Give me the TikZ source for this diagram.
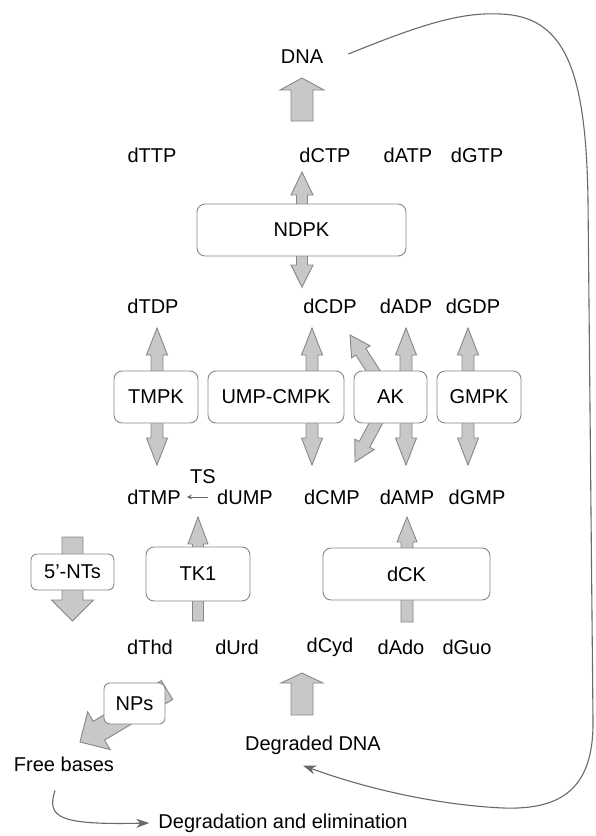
\documentclass[tikz,border=0pt]{standalone}
\usepackage{fontspec}
\setmainfont{Liberation Sans}
\usetikzlibrary{calc,arrows.meta,backgrounds}

\definecolor{arrfill}{RGB}{200,200,200}
\definecolor{arrline}{RGB}{135,135,135}
\definecolor{conn}{RGB}{105,105,105}

\tikzset{
  enzyme/.style={draw=arrline, fill=white, rounded corners=8pt, line width=0.9pt,
    minimum height=52pt, inner sep=0pt},
  blockarrow/.style={draw=arrline, fill=arrfill, line width=0.9pt},
  flow/.style={draw=conn, line width=1.1pt, -{Stealth[length=13pt,width=9pt,inset=4pt]}},
  tsflow/.style={draw=conn, line width=0.7pt, -{Stealth[length=5pt,width=5pt]},
    shorten <=6pt, shorten >=3pt},
}

% block arrow: tail, tip, half shaft width, half head width, head length
\newcommand{\blkarrow}[5]{%
  \coordinate (tail) at #1;
  \coordinate (tip) at #2;
  \coordinate (neck) at ($(tip)!#5pt!(tail)$);
  \draw[blockarrow] ($(tail)!#3pt!90:(tip)$) -- ($(neck)!#3pt!-90:(tail)$)
    -- ($(neck)!#4pt!-90:(tail)$) -- (tip) -- ($(neck)!#4pt!90:(tail)$)
    -- ($(neck)!#3pt!90:(tail)$) -- ($(tail)!#3pt!-90:(tip)$) -- cycle;
}

\begin{document}
\begin{tikzpicture}[x=1pt, y=-1pt, font=\fontsize{20}{24}\selectfont, inner sep=3pt]
  \useasboundingbox (0,0) rectangle (595,836);

  % nucleotides
  \node (DNA) at (302,57) {DNA};
  \foreach \lab/\x in {dTTP/152, dCTP/325, dATP/408, dGTP/477}
    \node (\lab) at (\x,155) {\lab};
  \foreach \lab/\x in {dTDP/153, dCDP/330, dADP/406, dGDP/473}
    \node (\lab) at (\x,306) {\lab};
  \foreach \lab/\x in {dTMP/154, dUMP/245, dCMP/332, dAMP/407, dGMP/477}
    \node (\lab) at (\x,497) {\lab};
  \foreach \lab/\x in {dThd/150, dUrd/237, dCyd/330, dAdo/401, dGuo/467}
    \node (\lab) at (\x,647) {\lab};
  \node (TS) at (203,477) {TS};
  \node (DegDNA) at (313,745) {Degraded DNA};
  \node (FreeBases) at (64,764) {Free bases};
  \node (Elim) at (283,823) {Degradation and elimination};

  % enzymes
  \node[enzyme, minimum width=209pt] (NDPK) at (301.5,230) {NDPK};
  \foreach \nm/\lab/\x/\w in {tmpk/TMPK/156/84, umpcmpk/UMP-CMPK/276/136,
                              ak/AK/390.5/73, gmpk/GMPK/479/84}
    \node[enzyme, minimum width=\w pt] (\nm) at (\x,397) {\lab};
  \node[enzyme, minimum width=104pt, minimum height=54pt] (TK1) at (198,574) {TK1};
  \node[enzyme, minimum width=167pt] (dCK) at (406.5,574) {dCK};
  \node[enzyme, minimum width=83pt, minimum height=36pt, rounded corners=6pt] (NTs) at (72.5,572) {5’-NTs};
  \node[enzyme, minimum width=61pt, minimum height=41pt, rounded corners=6pt] (NPs) at (134.5,703.5) {NPs};

  % block arrows behind the enzymes
  \begin{scope}[on background layer]
    \blkarrow{(302,121)}{(302,78)}{11}{22}{12}
    \blkarrow{(302,230)}{(302,172)}{5.5}{11}{23}
    \blkarrow{(302,230)}{(302,287)}{5.5}{11}{22}
    \foreach \x in {157,312,406,468}{
      \blkarrow{(\x,397)}{(\x,328)}{6}{10.5}{27}
      \blkarrow{(\x,397)}{(\x,465)}{6}{10.5}{27}
    }
    \blkarrow{(390,397)}{(350,335)}{6}{11}{20}
    \blkarrow{(390,397)}{(355,462)}{6}{11}{20}
    \blkarrow{(198,621)}{(198,517)}{5.5}{10}{27}
    \blkarrow{(407,622)}{(407,517)}{6}{10}{25}
    \blkarrow{(72.5,537)}{(72.5,621)}{10.5}{21}{21}
    \blkarrow{(302,715)}{(302,673)}{11}{21}{10}
    \blkarrow{(167,690)}{(80,742)}{11}{22}{22}
  \end{scope}

  % connectors
  \draw[tsflow] (dUMP.west) -- (dTMP.east);
  \draw[flow] ([xshift=22pt,yshift=3pt]DNA.east) .. controls (420,25) and (460,12) .. (500,14)
    .. controls (565,16) and (586,70) .. (588,200)
    -- (593,720) .. controls (594,790) and (560,810) .. (503,808)
    .. controls (440,805) and (370,790) .. ([xshift=-10pt,yshift=-8pt]DegDNA.south);
  \draw[flow] ([xshift=-9pt,yshift=-16pt]FreeBases.south) .. controls (46,818) and (60,825)
    .. ([xshift=-6pt]Elim.west);
\end{tikzpicture}
\end{document}
